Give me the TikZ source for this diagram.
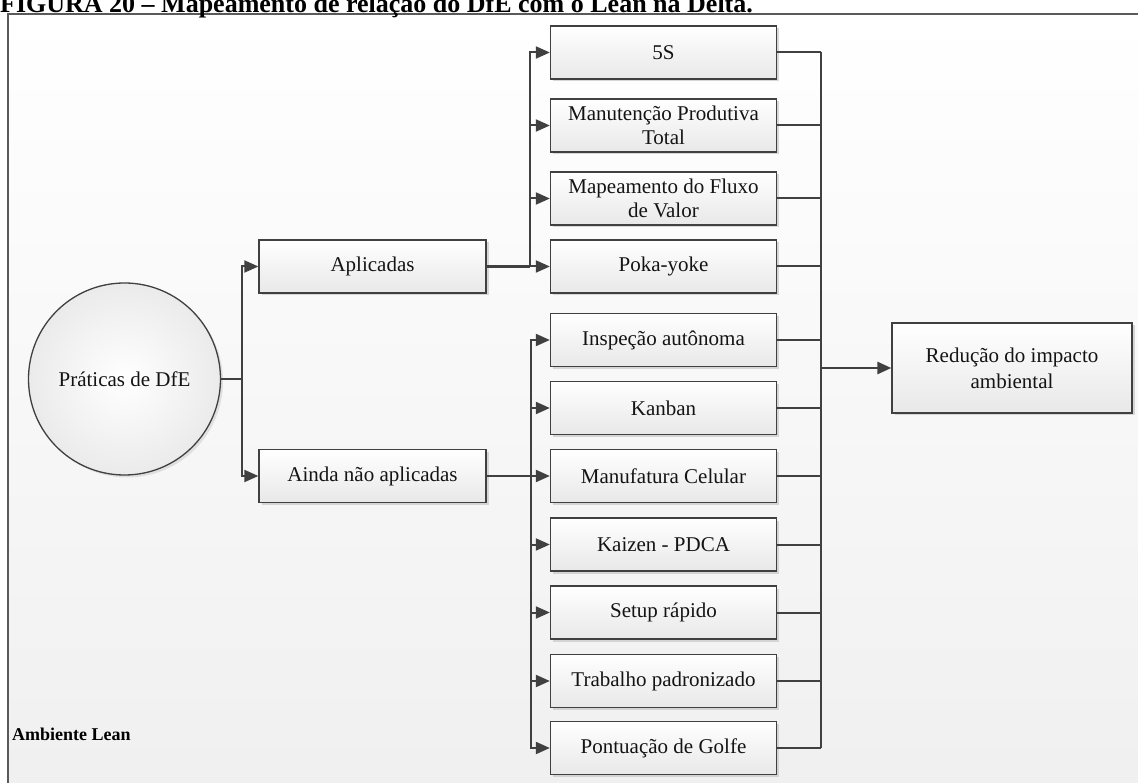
\documentclass[tikz,border=0pt]{standalone}
\usepackage{fontspec}
\setmainfont{Liberation Serif}
\usetikzlibrary{arrows.meta,shadows}

\definecolor{linegray}{HTML}{404040}
\definecolor{framegray}{HTML}{5A5A5A}

\tikzset{
  boxtext/.style={font=\fontsize{21}{24}\selectfont, text=black!92, align=center},
  stepbox/.style={boxtext, draw=linegray, line width=1.3pt,
    top color=white, bottom color=black!9,
    minimum width=226pt, minimum height=53pt, inner sep=2pt,
    drop shadow={shadow xshift=2.5pt, shadow yshift=-2.5pt, fill=black!22, opacity=0.7}},
  bigbox/.style={stepbox, minimum width=240pt, minimum height=90pt,
    font=\fontsize{21}{26}\selectfont},
  startnode/.style={boxtext, circle, draw=linegray, line width=1.3pt,
    inner color=white, outer color=black!8, minimum size=192pt,
    drop shadow={shadow xshift=2.5pt, shadow yshift=-2.5pt, fill=black!18, opacity=0.6}},
  conn/.style={draw=linegray, line width=2pt},
  mainconn/.style={draw=linegray, line width=2.8pt},
  tip/.style={-{Triangle[length=14pt,width=12pt]}},
}

\begin{document}
\begin{tikzpicture}[x=1pt,y=-1pt]
\useasboundingbox (0,0) rectangle (1138,783);

% page and shaded drawing area
\fill[white] (0,0) rectangle (1138,783);
\shade[top color=white, bottom color=black!6] (8,14) rectangle (1145,790);
\draw[framegray, line width=1.5pt] (8,790) -- (8,14) -- (1145,14);

% caption
\node[anchor=base west, inner sep=0pt, font=\bfseries\fontsize{26}{28}\selectfont]
  (caption) at (0,12.5) {FIGURA 20 -- Mapeamento de relação do DfE com o Lean na Delta.};

% environment label
\node[anchor=base west, inner sep=0pt, font=\bfseries\fontsize{18}{20}\selectfont]
  (env) at (12,740) {Ambiente Lean};

% source and groups
\node[startnode] (dfe) at (124.5,379) {Práticas de DfE};
\node[stepbox, minimum width=227pt] (apl) at (372.5,266.5) {Aplicadas};
\node[stepbox, minimum width=227pt] (ainda) at (372.5,476) {Ainda não aplicadas};

% applied practices
\node[stepbox] (s5)   at (663.5,52.5)  {5S};
\node[stepbox] (mpt)  at (663.5,125.5) {Manutenção Produtiva\\Total};
\node[stepbox] (mfv)  at (663.5,198.5) {Mapeamento do Fluxo\\de Valor};
\node[stepbox] (poka) at (663.5,266.5) {Poka-yoke};

% practices not yet applied
\node[stepbox] (insp)  at (663.5,340)   {Inspeção autônoma};
\node[stepbox] (kanb)  at (663.5,408)   {Kanban};
\node[stepbox] (cel)   at (663.5,476)   {Manufatura Celular};
\node[stepbox] (kaiz)  at (663.5,544.5) {Kaizen - PDCA};
\node[stepbox] (setup) at (663.5,612.5) {Setup rápido};
\node[stepbox] (trab)  at (663.5,681)   {Trabalho padronizado};
\node[stepbox] (golf)  at (663.5,748)   {Pontuação de Golfe};

% outcome
\node[bigbox] (red) at (1012,368) {Redução do impacto\\ambiental};

% junction points of the connector buses
\coordinate (jd) at (242,379);
\coordinate (ja) at (530,266.5);
\coordinate (jb) at (531,476);
\coordinate (jr) at (821,368);

% source to groups
\draw[conn] (dfe.east) -- (jd);
\draw[conn, tip] (jd) |- (apl.west);
\draw[conn, tip] (jd) |- (ainda.west);

% applied group bus
\draw[mainconn] (apl.east) -- (ja);
\foreach \n in {s5,mpt,mfv,poka}
  \draw[conn, tip] (ja) |- (\n.west);

% not-applied group bus
\draw[mainconn] (ainda.east) -- (jb);
\foreach \n in {insp,kanb,cel,kaiz,setup,trab,golf}
  \draw[conn, tip] (jb) |- (\n.west);

% collector bus to the outcome
\foreach \n in {s5,mpt,mfv,poka,insp,kanb,cel,kaiz,setup,trab,golf}
  \draw[conn] (\n.east) -- (\n.east -| jr);
\draw[conn] (s5.east -| jr) -- (golf.east -| jr);
\draw[mainconn, tip] (jr) -- (red.west);

\end{tikzpicture}
\end{document}
